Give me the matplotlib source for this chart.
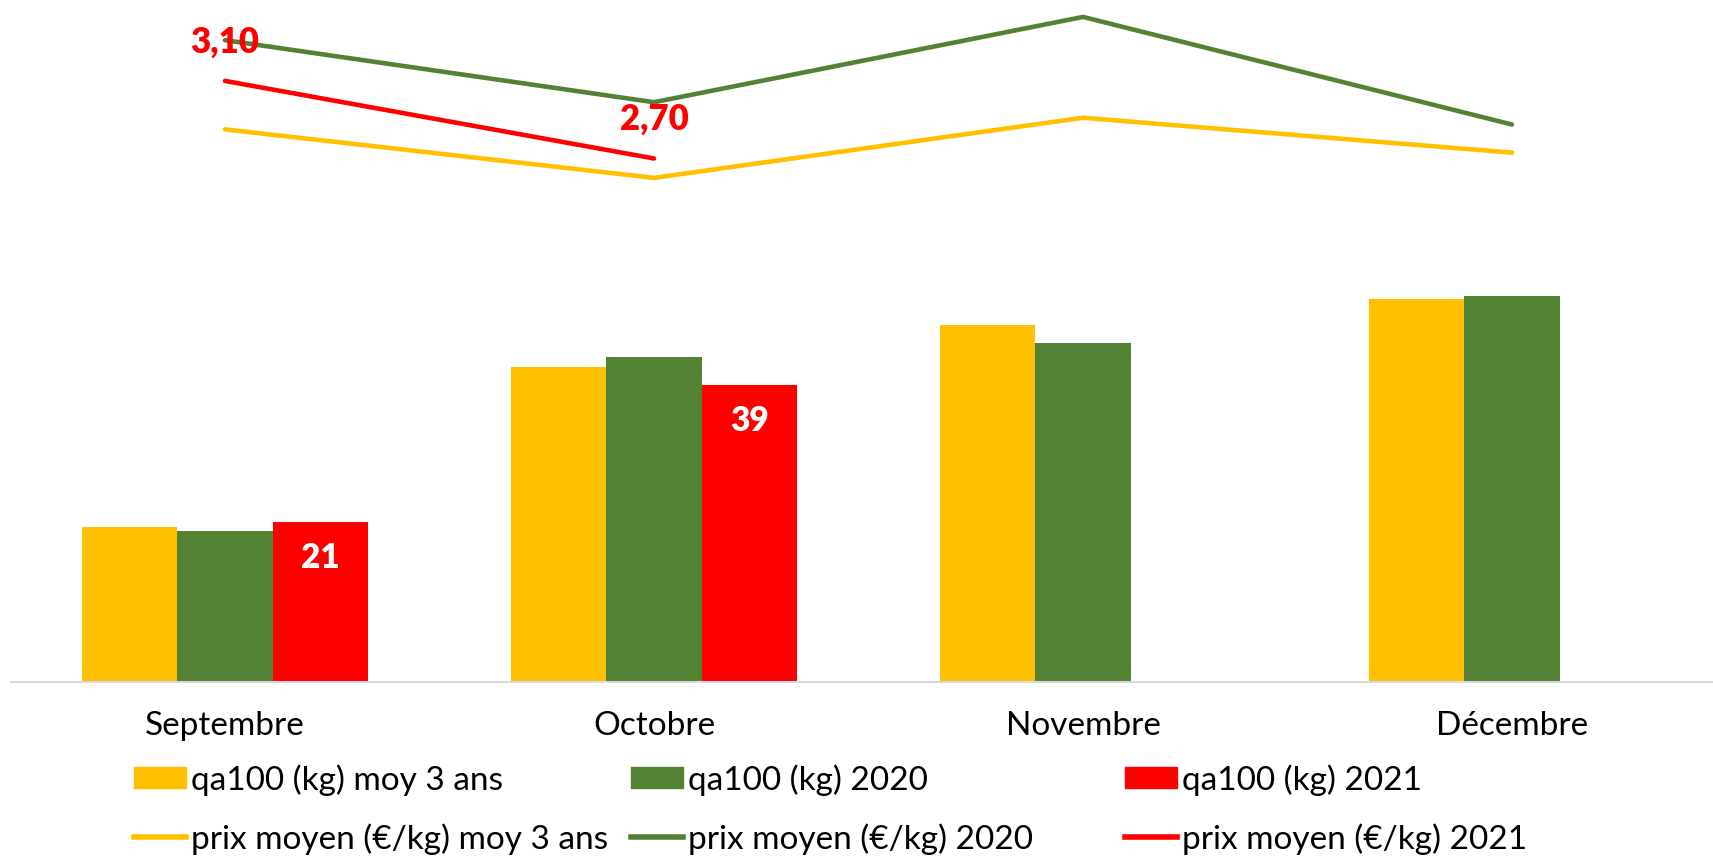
import matplotlib
matplotlib.use("Agg")
import matplotlib.pyplot as plt
import numpy as np
from matplotlib.patches import Patch
from matplotlib.lines import Line2D

plt.rcParams['font.family'] = ['Lato', 'DejaVu Sans']

# données
mois = ['Septembre', 'Octobre', 'Novembre', 'Décembre']
qa_moy3 = [20.3, 41.3, 46.8, 50.2]
qa_2020 = [19.8, 42.6, 44.5, 50.6]
qa_2021 = [21, 39]
prix_moy3 = [2.85, 2.60, 2.91, 2.73]
prix_2020 = [3.31, 2.99, 3.43, 2.875]
prix_2021 = [3.10, 2.70]

jaune = '#FFC000'
vert = '#548235'
rouge = '#FF0000'

W, H = 1713, 856
fig = plt.figure(figsize=(W / 100, H / 100), dpi=100)
# axes in pixel units (Excel layout: plot area spills past the right edge)
left, right, bottom, top = 10.5, 1726.5, H - 682, H
ax = fig.add_axes([left / W, bottom / H, (right - left) / W, (top - bottom) / H])
ax2 = ax.twinx()

x = np.arange(len(mois))
bw = 0.222
ax.bar(x - bw, qa_moy3, bw, color=jaune)
ax.bar(x, qa_2020, bw, color=vert)
b21 = ax.bar(x[:len(qa_2021)] + bw, qa_2021, bw, color=rouge)
for rect, v in zip(b21, qa_2021):
    ax.annotate(f"{v:d}", (rect.get_x() + rect.get_width() / 2, v),
                xytext=(0, -26), textcoords='offset points', ha='center', va='center',
                color='white', fontsize=24, fontweight='heavy')

lw = 3.3
ax2.plot(x, prix_moy3, color=jaune, lw=lw, solid_capstyle='round')
ax2.plot(x, prix_2020, color=vert, lw=lw, solid_capstyle='round')
ax2.plot(x[:len(prix_2021)], prix_2021, color=rouge, lw=lw, solid_capstyle='round')
for xi, v in zip(x, prix_2021):
    ax2.annotate(f"{v:.2f}".replace('.', ','), (xi, v), xytext=(0, 28),
                 textcoords='offset points', ha='center', va='center',
                 color=rouge, fontsize=25, fontweight='heavy')

ax.set_xlim(-0.5, 3.5)
ax.set_ylim(0, 682 / 7.62)
ax2.set_ylim(0, 682 / 193.9)

for a in (ax, ax2):
    for s in ('left', 'right', 'top'):
        a.spines[s].set_visible(False)
    a.set_yticks([])
ax.spines['bottom'].set_color('#D9D9D9')
ax.spines['bottom'].set_linewidth(1.5)
ax2.spines['bottom'].set_visible(False)
ax.set_xticks(x, mois)
ax.tick_params(axis='x', length=0, pad=21, labelsize=24)

# légende en trois colonnes à largeur fixe (comme Excel)
entrees = [
    (Patch(color=jaune), 'qa100 (kg) moy 3 ans', Line2D([], [], color=jaune, lw=4), 'prix moyen (€/kg) moy 3 ans'),
    (Patch(color=vert), 'qa100 (kg) 2020', Line2D([], [], color=vert, lw=4), 'prix moyen (€/kg) 2020'),
    (Patch(color=rouge), 'qa100 (kg) 2021', Line2D([], [], color=rouge, lw=4), 'prix moyen (€/kg) 2021'),
]
col_x = [134, 631, 1125]
for xpos, (h1, l1, h2, l2) in zip(col_x, entrees):
    fig.legend([h1, h2], [l1, l2], loc='upper left', bbox_to_anchor=(xpos / W, 1 - 764 / H),
               frameon=False, fontsize=24, handlelength=1.55, handleheight=0.6,
               handletextpad=0.16, labelspacing=0.82, borderpad=0, borderaxespad=0)

fig.savefig('out.png', dpi=100)
